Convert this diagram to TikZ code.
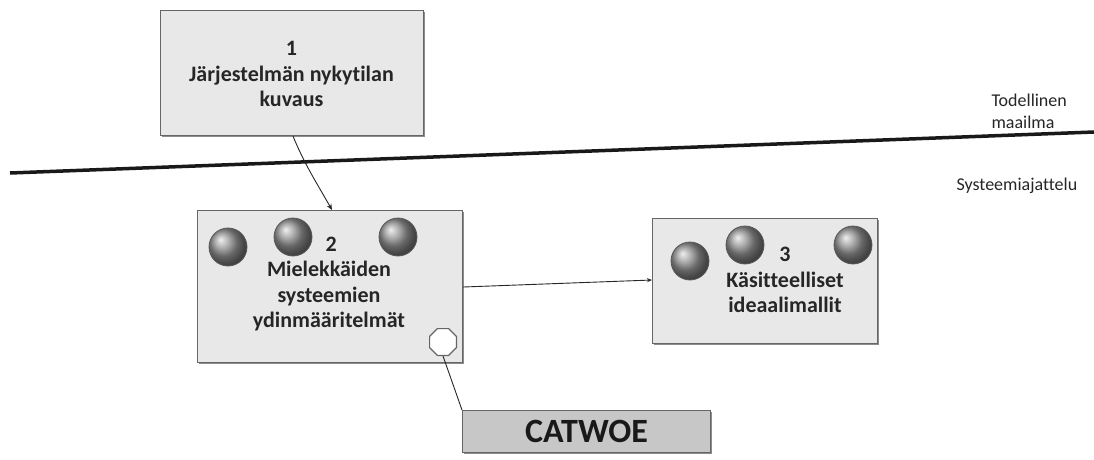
\documentclass[tikz,border=0pt]{standalone}
\usepackage{fontspec}
\setmainfont[Ligatures=NoCommon]{Carlito}
\usetikzlibrary{shapes.geometric,arrows.meta,shadows}
\begin{document}
\begin{tikzpicture}[x=1pt,y=-1pt,
  box/.style={draw=black!60,line width=1.2pt,fill=black!9,
    drop shadow={shadow xshift=1.5pt,shadow yshift=-1.5pt,fill=black!45,opacity=1}},
  lbl/.style={font=\bfseries\fontsize{22}{25.5}\selectfont,align=center,text=black!85},
  ball/.style={circle,minimum size=38pt,inner sep=0pt,draw=black!65,line width=0.8pt,
    ball color=black!42},
  conn/.style={draw=black!85,line width=0.9pt},
  side/.style={font=\fontsize{18}{22}\selectfont,align=left,text=black!85}]
\useasboundingbox (0,0) rectangle (1094,459);
% boxes
\node[box,minimum width=263pt,minimum height=125pt,anchor=north west] (b1) at (160,10) {};
\node[lbl] (t1) at (291.5,74) {1\\Järjestelmän nykytilan\\kuvaus};
\node[box,minimum width=265pt,minimum height=152pt,anchor=north west] (b2) at (197,210) {};
\node[ball] (c21) at (228,247) {};
\node[ball] (c22) at (293,237) {};
\node[ball] (c23) at (398,237) {};
\node[lbl] (t2) at (329,284) {\hspace*{0.2em}2\\Mielekkäiden\\systeemien\\ydinmääritelmät};
\node[regular polygon,regular polygon sides=8,minimum size=29pt,inner sep=0pt,draw=black!60,line width=1.2pt,fill=white] (oct) at (443,342) {};
\node[box,minimum width=225pt,minimum height=125pt,anchor=north west] (b3) at (652,218) {};
\node[ball] (c31) at (690,261) {};
\node[ball] (c32) at (745,245) {};
\node[ball] (c33) at (853,245) {};
\node[lbl] (t3) at (785,280) {3\\Käsitteelliset\\ideaalimallit};
\node[box,fill=black!22,minimum width=248pt,minimum height=42pt,anchor=north west,
  font=\bfseries\fontsize{34}{36}\selectfont,text=black!90] (cat) at (462,410) {CATWOE};
% world line
\coordinate (wl) at (10,173);
\coordinate (wr) at (1094,132);
\draw[line width=3.5pt,black!90] (wl) -- (wr);
\node[side,anchor=west] (tod) at (988,111) {Todellinen\\maailma};
\node[side,anchor=west] (sys) at (953,186) {Systeemiajattelu};
% connectors
\draw[conn,-{Stealth[length=6pt,width=5pt]}] (b1.south -| 293,0) .. controls (305,165) and (315,180) .. (b2.north -| 332,0);
\draw[conn,-{Stealth[length=5pt,width=4pt]}] (b2.east |- 0,287) -- (b3.west |- 0,280);
\draw[conn] (oct.south) -- (cat.north west);
\end{tikzpicture}
\end{document}
